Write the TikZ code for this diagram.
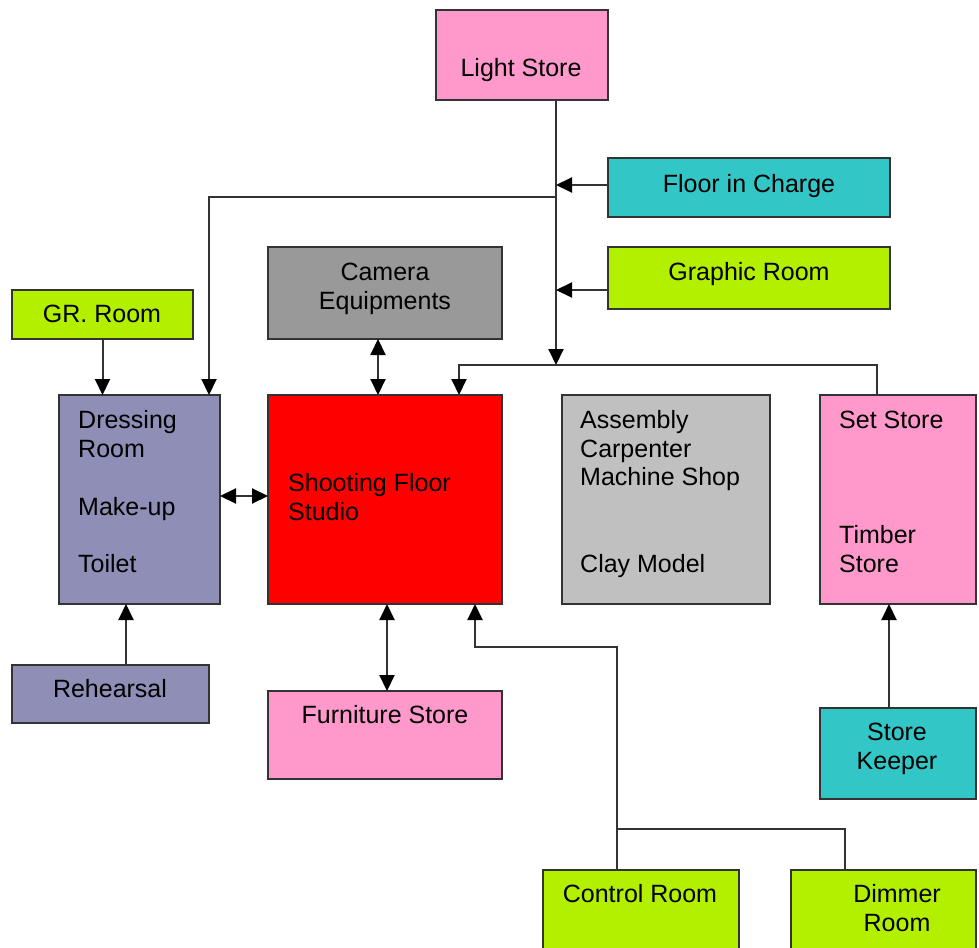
\documentclass[tikz,border=0pt]{standalone}
\usepackage{fontspec}
\setmainfont{Liberation Sans}
\usetikzlibrary{arrows.meta}
\definecolor{cpink}{HTML}{FF99CC}
\definecolor{cteal}{HTML}{33C6C6}
\definecolor{clime}{HTML}{B3F000}
\definecolor{cpurp}{HTML}{8E8EB6}
\definecolor{cgray}{HTML}{999999}
\definecolor{clgray}{HTML}{C0C0C0}
\definecolor{cred}{HTML}{FF0000}
\definecolor{cline}{HTML}{333333}
\tikzset{
  box/.style={draw=cline, line width=2pt, inner sep=0pt, outer sep=0pt, anchor=north west},
  lbl/.style={inner sep=0pt, font=\fontsize{25}{29}\selectfont, anchor=base},
  lbll/.style={inner sep=0pt, font=\fontsize{25}{29}\selectfont, anchor=base west},
  conn/.style={draw=cline, line width=2pt},
  tip/.tip={Triangle[length=16pt,width=15pt,color=black,fill=black]},
  arr/.style={conn, -tip},
  darr/.style={conn, tip-tip}
}
\begin{document}
\begin{tikzpicture}[x=1pt,y=-1pt]
\useasboundingbox (0,0) rectangle (979,947);
% boxes
\node[box, fill=cpink, minimum width=172pt, minimum height=90pt] (light) at (436,10) {};
\node[box, fill=cteal, minimum width=282pt, minimum height=59pt] (floor) at (608,158) {};
\node[box, fill=clime, minimum width=282pt, minimum height=62pt] (graphic) at (608,247) {};
\node[box, fill=cgray, minimum width=234pt, minimum height=92pt] (camera) at (268,247) {};
\node[box, fill=clime, minimum width=181pt, minimum height=49pt] (gr) at (12,290) {};
\node[box, fill=cpurp, minimum width=161pt, minimum height=209pt] (dress) at (59,395) {};
\node[box, fill=cred, minimum width=234pt, minimum height=209pt] (shoot) at (268,395) {};
\node[box, fill=clgray, minimum width=208pt, minimum height=209pt] (assembly) at (562,395) {};
\node[box, fill=cpink, minimum width=156pt, minimum height=209pt] (setstore) at (820,395) {};
\node[box, fill=cpurp, minimum width=197pt, minimum height=58pt] (reh) at (12,665) {};
\node[box, fill=cpink, minimum width=234pt, minimum height=88pt] (furn) at (268,691) {};
\node[box, fill=cteal, minimum width=156pt, minimum height=91pt] (keeper) at (820,708) {};
\node[box, fill=clime, minimum width=196pt, minimum height=100pt] (control) at (543,870) {};
\node[box, fill=clime, minimum width=185pt, minimum height=100pt] (dimmer) at (791,870) {};
% texts
\node[lbl] (tlight) at (521,77) {Light Store};
\node[lbl] (tfloor) at (749,192) {Floor in Charge};
\node[lbl] (tgraphic) at (749,280) {Graphic Room};
\node[lbl] (tcam1) at (385,280) {Camera};
\node[lbl] (tcam2) at (385,309) {Equipments};
\node[lbl] (tgr) at (102,322) {GR. Room};
\node[lbll] (td1) at (78,428) {Dressing};
\node[lbll] (td2) at (78,457) {Room};
\node[lbll] (td3) at (78,515) {Make-up};
\node[lbll] (td4) at (78,572) {Toilet};
\node[lbll] (ts1) at (288,491) {Shooting Floor};
\node[lbll] (ts2) at (288,520) {Studio};
\node[lbll] (ta1) at (580,428) {Assembly};
\node[lbll] (ta2) at (580,457) {Carpenter};
\node[lbll] (ta3) at (580,485) {Machine Shop};
\node[lbll] (ta4) at (580,572) {Clay Model};
\node[lbll] (tst1) at (839,428) {Set Store};
\node[lbll] (tst2) at (839,543) {Timber};
\node[lbll] (tst3) at (839,572) {Store};
\node[lbl] (treh) at (110,697) {Rehearsal};
\node[lbl] (tfurn) at (385,723) {Furniture Store};
\node[lbl] (tk1) at (897,740) {Store};
\node[lbl] (tk2) at (897,769) {Keeper};
\node[lbl] (tc) at (640,902) {Control Room};
\node[lbl] (tdm1) at (897,902) {Dimmer};
\node[lbl] (tdm2) at (897,931) {Room};
% junction coordinates
\coordinate (tA) at (556,365);
\coordinate (tB) at (459,365);
\coordinate (tC) at (877,365);
\coordinate (tD) at (556,197);
\coordinate (tE) at (209,197);
\coordinate (yFl) at (0,185);
\coordinate (yGr) at (0,290);
\coordinate (xCam) at (378,0);
\coordinate (xFur) at (387,0);
\coordinate (yDS) at (0,496);
\coordinate (xReh) at (126,0);
\coordinate (xKeep) at (889,0);
\coordinate (cA) at (617,829);
\coordinate (cB) at (845,829);
\coordinate (cC) at (617,647);
\coordinate (cD) at (475,647);
% connectors
\draw[arr] (light.south -| tA) -- (tA);
\draw[arr] (setstore.north -| tC) -- (tC) -- (tB) -- (shoot.north -| tB);
\draw[arr] (floor.west |- yFl) -- (tA |- yFl);
\draw[arr] (graphic.west |- yGr) -- (tA |- yGr);
\draw[arr] (tD) -- (tE) -- (dress.north -| tE);
\draw[arr] (gr.south) -- (dress.north -| gr.south);
\draw[darr] (camera.south -| xCam) -- (shoot.north -| xCam);
\draw[darr] (dress.east |- yDS) -- (shoot.west |- yDS);
\draw[arr] (reh.north -| xReh) -- (dress.south -| xReh);
\draw[darr] (shoot.south -| xFur) -- (furn.north -| xFur);
\draw[conn] (control.north -| cA) -- (cA) -- (cB) -- (dimmer.north -| cB);
\draw[arr] (cA) -- (cC) -- (cD) -- (shoot.south -| cD);
\draw[arr] (keeper.north -| xKeep) -- (setstore.south -| xKeep);
\end{tikzpicture}
\end{document}
